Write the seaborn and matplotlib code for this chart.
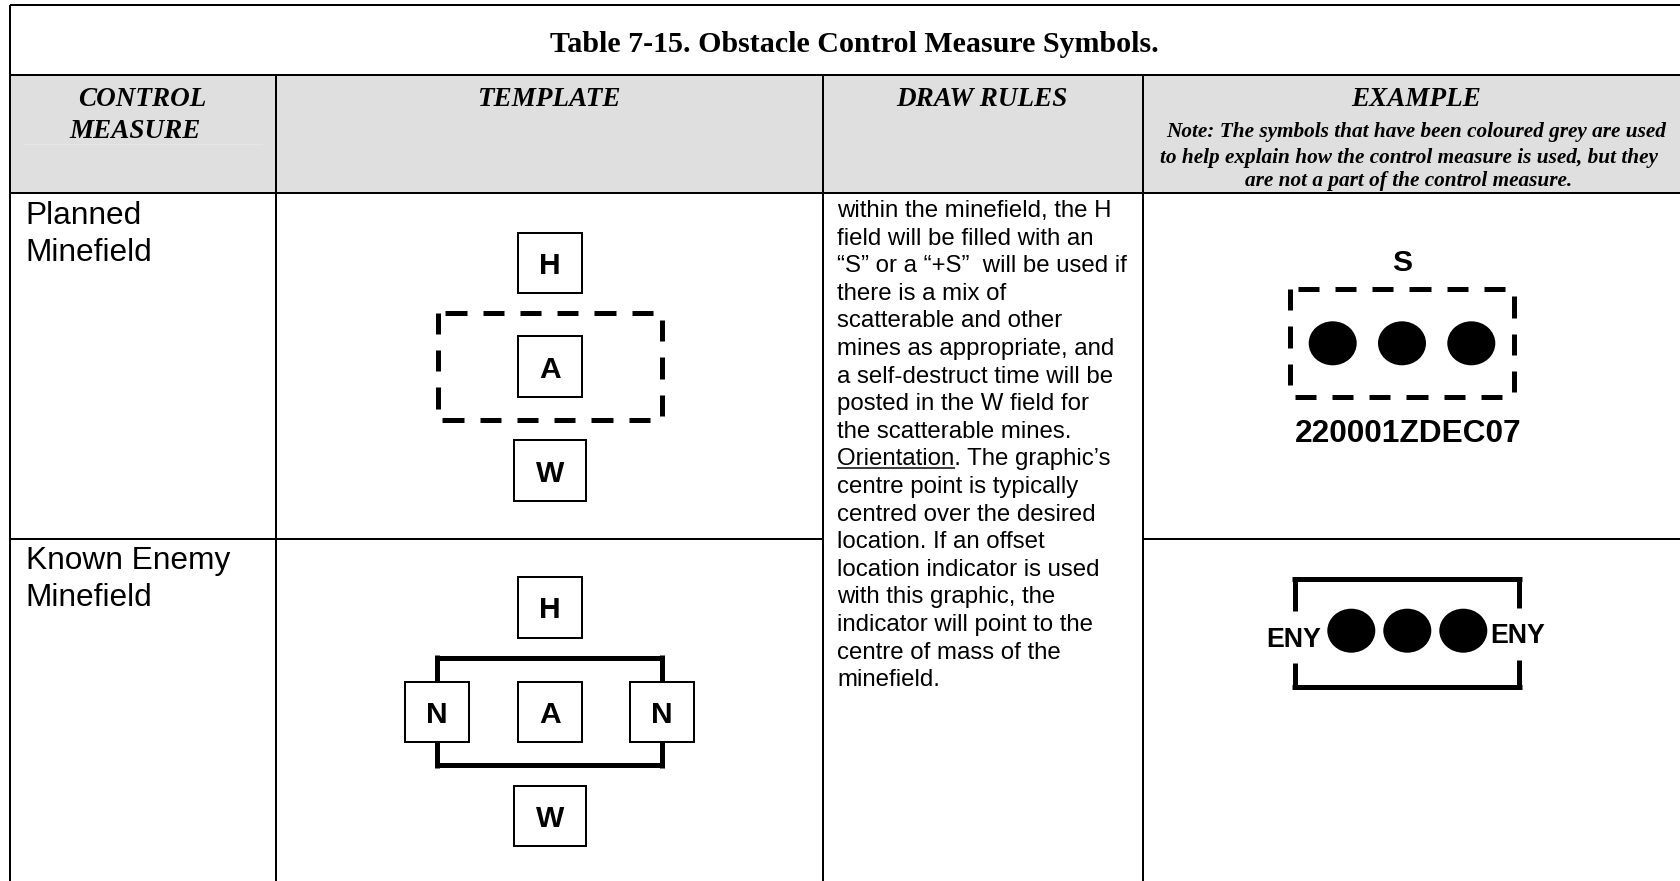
import pandas as pd
import matplotlib
matplotlib.use("Agg")
import matplotlib.pyplot as plt
import seaborn as sns
from matplotlib.patches import Rectangle
from matplotlib.path import Path
from matplotlib.transforms import Affine2D

# table text
table_title = "Table 7-15. Obstacle Control Measure Symbols."
header_labels = ["CONTROL", "MEASURE", "TEMPLATE", "DRAW RULES", "EXAMPLE"]
note_lines = [
    "Note: The symbols that have been coloured grey are used",
    "to help explain how the control measure is used, but they",
    "are not a part of the control measure.",
]
row_labels = [["Planned", "Minefield"], ["Known Enemy", "Minefield"]]
draw_rules = [
    "within the minefield, the H",
    "field will be filled with an",
    "\u201cS\u201d or a \u201c+S\u201d  will be used if",
    "there is a mix of",
    "scatterable and other",
    "mines as appropriate, and",
    "a self-destruct time will be",
    "posted in the W field for",
    "the scatterable mines.",
    "Orientation. The graphic\u2019s",
    "centre point is typically",
    "centred over the desired",
    "location. If an offset",
    "location indicator is used",
    "with this graphic, the",
    "indicator will point to the",
    "centre of mass of the",
    "minefield.",
]

# layout, everything in image pixels
W, H = 1681, 881
left_x, col1_x, col2_x, col3_x = 10, 276.3, 823, 1143
top_y, title_y, header_y, row_y = 5, 75, 193.3, 539
PX = 72 / 100  # pixel -> point at dpi 100

SANS = "Liberation Sans"
SERIF = "Liberation Serif"

sns.set_theme(style="white")
plt.rcParams["font.family"] = [SANS, "DejaVu Sans"]

fig = plt.figure(figsize=(W / 100, H / 100), dpi=100, facecolor="white")
ax = fig.add_axes([0, 0, 1, 1])


def draw_segments(segs, width, zorder=2, color="black"):
    # each seg is (x0, y0, x1, y1), drawn as its own unit
    rows = []
    for i, (x0, y0, x1, y1) in enumerate(segs):
        rows.append({"x": x0, "y": y0, "seg": i})
        rows.append({"x": x1, "y": y1, "seg": i})
    sns.lineplot(
        data=pd.DataFrame(rows), x="x", y="y", units="seg", estimator=None,
        sort=False, color=color, linewidth=width * PX, legend=False,
        solid_capstyle="butt", zorder=zorder, ax=ax,
    )


def dashed_frame(x0, x1, y0, y1):
    dash, gap = 21.3, 16
    segs = []
    for i in range(6):
        a = x0 + 7.6 + i * (dash + gap)
        segs.append((a, y0, a + dash, y0))
        a = x0 + 4.6 + i * (dash + gap)
        segs.append((a, y1, a + dash, y1))
    for i in range(3):
        a = y0 + i * (dash + gap)
        segs.append((x0, a, x0, a + dash))
        a = y0 + 7.4 + i * (dash + gap)
        segs.append((x1, a, x1, a + dash))
    draw_segments(segs, 5)


def letter_box(x0, x1, y0, y1, letter):
    ax.add_patch(Rectangle((x0, y0), x1 - x0, y1 - y0, facecolor="white",
                           edgecolor="black", linewidth=2 * PX, zorder=3))
    ax.text((x0 + x1) / 2, (y0 + y1) / 2, letter, fontsize=21.6, fontweight="bold",
            family=SANS, ha="center", va="center_baseline", color="black", zorder=4)


def mines(xs, y):
    df = pd.DataFrame({"x": xs, "y": [y] * len(xs)})
    shape = Path.unit_circle().transformed(Affine2D().scale(1, 44 / 48))
    sns.scatterplot(data=df, x="x", y="y", marker=shape, s=(48 * PX) ** 2,
                    color="black", edgecolor="none", legend=False, zorder=3, ax=ax)


# header fill
ax.add_patch(Rectangle((left_x, title_y), W - left_x, header_y - title_y,
                       facecolor="#DFDFDF", edgecolor="none", zorder=1))
# faint stray rule in the first header cell
draw_segments([(23, 144.3, 262, 144.3)], 1, zorder=1.5, color="#E5E5E5")

# table rules
draw_segments([
    (left_x, top_y, W, top_y),
    (left_x, title_y, W, title_y),
    (left_x, header_y, W, header_y),
    (left_x, top_y, left_x, H),
    (col1_x, title_y, col1_x, H),
    (col2_x, title_y, col2_x, H),
    (col3_x, title_y, col3_x, H),
    (left_x, row_y, col2_x, row_y),
    (col3_x, row_y, W, row_y),
], 2)

# title and headers
ax.text(854, 41.5, table_title, family=SERIF, fontweight="bold", fontsize=21.6,
        ha="center", va="center_baseline", color="black")
header_pos = [(142.6, 97), (135, 128), (549, 97), (982, 97), (1415.7, 97)]
for label, (x, y) in zip(header_labels, header_pos):
    ax.text(x, y, label, family=SERIF, fontweight="bold", style="italic", fontsize=19.5,
            ha="center", va="center_baseline", color="black")
note_pos = [(1416, 129), (1408.5, 155), (1408.5, 178.3)]
for line, (x, y) in zip(note_lines, note_pos):
    ax.text(x, y, line, family=SERIF, fontweight="bold", style="italic", fontsize=15.3,
            ha="center", va="center_baseline", color="black")

# row labels
for lines, ys in zip(row_labels, [(224, 261), (569.3, 606)]):
    for line, y in zip(lines, ys):
        ax.text(25.7, y, line, family=SANS, fontsize=22.8, ha="left", va="baseline",
                color="black")

# draw rules column
rule_top, rule_step = 217, 27.6
for i, line in enumerate(draw_rules):
    ax.text(837.5, rule_top + i * rule_step, line, family=SANS, fontsize=17.3,
            ha="left", va="baseline", color="black")
draw_segments([(837.5, 468, 955, 468)], 1.5)

# planned minefield template
dashed_frame(437.7, 662, 312.7, 420.3)
letter_box(517.7, 581.7, 232.7, 292.5, "H")
letter_box(517.7, 581.7, 336.3, 396.7, "A")
letter_box(514, 586, 440.3, 500.7, "W")

# known enemy template
draw_segments([
    (437.5, 681.7, 437.5, 655.2), (435, 657.7, 664.5, 657.7), (662, 655.2, 662, 681.7),
    (437.5, 741.7, 437.5, 767.8), (435, 765.3, 664.5, 765.3), (662, 767.8, 662, 741.7),
], 5)
letter_box(517.7, 581.7, 577.3, 637.7, "H")
letter_box(405.3, 469.3, 681.7, 741.7, "N")
letter_box(517.7, 581.7, 681.7, 741.7, "A")
letter_box(629.7, 693.7, 681.7, 741.7, "N")
letter_box(514, 586, 785.7, 845.7, "W")

# planned minefield example
dashed_frame(1290, 1514, 289, 397)
mines([1332.7, 1402, 1471.3], 343.3)
ax.text(1401.7, 260, "S", family=SANS, fontweight="bold", fontsize=21.6,
        ha="center", va="center_baseline", color="black")
ax.text(1408, 431, "220001ZDEC07", family=SANS, fontweight="bold", fontsize=22.8,
        ha="center", va="center_baseline", color="black")

# known enemy example
draw_segments([
    (1295, 610.7, 1295, 577), (1292.5, 579.3, 1521.8, 579.3), (1519.3, 577, 1519.3, 607.7),
    (1295, 663, 1295, 689.2), (1292.5, 686.7, 1521.8, 686.7), (1519.3, 689.2, 1519.3, 660),
], 5)
mines([1351.3, 1407.3, 1463.3], 630.7)
ax.text(1294, 636.7, "ENY", family=SANS, fontweight="bold", fontsize=19.3,
        ha="center", va="center_baseline", color="black")
ax.text(1518, 633.3, "ENY", family=SANS, fontweight="bold", fontsize=19.3,
        ha="center", va="center_baseline", color="black")

ax.set_xlim(0, W)
ax.set_ylim(H, 0)
ax.axis("off")

fig.savefig("out.png", dpi=100, facecolor="white")
